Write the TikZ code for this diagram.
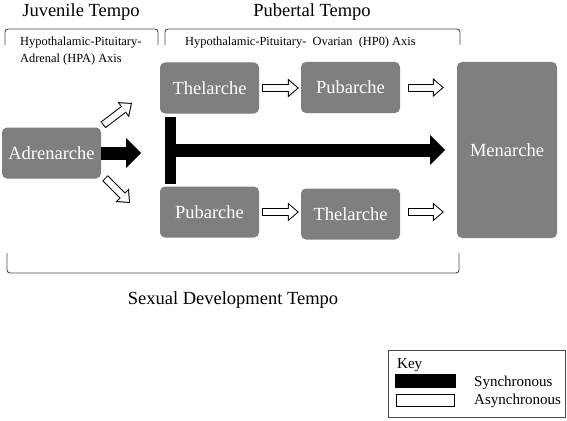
\documentclass[tikz,border=0pt]{standalone}
\usepackage{fontspec}
\setmainfont{LiberationSerif}[Extension=.ttf, UprightFont=*-Regular, BoldFont=*-Bold]
\usetikzlibrary{arrows.meta,positioning}

\definecolor{boxgray}{HTML}{7F7F7F}
\definecolor{linegray}{HTML}{4A4A4A}

\tikzset{
  stage/.style={rectangle, rounded corners=5pt, fill=boxgray, text=white,
    minimum width=99pt, minimum height=51pt, inner sep=0pt,
    font=\fontsize{18.5}{22}\selectfont},
  syncarrow/.style={line width=13pt,
    -{Triangle[length=15pt,width=30pt,line width=0pt]}},
  asyncarrow/.style={draw=white, line width=6pt, shorten <=1pt, shorten >=1.5pt,
    -{Triangle[length=8.5pt,width=14.6pt,line width=0pt]},
    preaction={draw=black, line width=8pt, shorten <=0pt, shorten >=0pt,
      -{Triangle[length=11pt,width=19pt,line width=0pt]}}},
  tempo/.style={font=\fontsize{18.5}{22}\selectfont, anchor=base, inner sep=0pt},
  axislabel/.style={font=\fontsize{12.4}{15}\selectfont, anchor=base west, inner sep=0pt},
  keylabel/.style={font=\fontsize{15}{18}\selectfont, anchor=base west, inner sep=0pt},
  brace/.style={draw=linegray, line width=0.9pt, rounded corners=3pt},
}

\begin{document}
\begin{tikzpicture}[x=1pt, y=-1pt]
  \useasboundingbox (0,0) rectangle (567,420);

  % Tempo headings and brackets
  \node[tempo] (juvenile) at (81,16.5) {Juvenile Tempo};
  \node[tempo] (pubertal) at (312,16.5) {Pubertal Tempo};
  \draw[brace] (5,45) -- (5,29) -- (158,29) -- (158,45);
  \draw[brace] (165,45) -- (165,29) -- (460,29) -- (460,45);
  \node[axislabel] (hpa1) at (20,46) {Hypothalamic-Pituitary-};
  \node[axislabel] (hpa2) at (20,63) {Adrenal (HPA) Axis};
  \node[axislabel] (hpo) at (185,46) {Hypothalamic-Pituitary-~ Ovarian~ (HP0) Axis};

  % Stages
  \node[stage] (adren) at (51.5,153) {Adrenarche};
  \node[stage] (thelA) at (209.5,88) {Thelarche};
  \node[stage] (pubA) at (350.5,87.5) {Pubarche};
  \node[stage] (pubB) at (209.5,212) {Pubarche};
  \node[stage] (thelB) at (350.5,214) {Thelarche};
  \node[stage, minimum width=100pt, minimum height=176pt] (men) at (507,150) {Menarche};

  % Synchronous path
  \coordinate (synctip) at (141,153);
  \coordinate (bartop) at (170.5,117);
  \coordinate (barbot) at (170.5,184);
  \coordinate (barmid) at (170.5,150);
  \coordinate (mentip) at (445,150);
  \draw[syncarrow] (adren.east) -- (synctip);
  \draw[line width=11pt] (bartop) -- (barbot);
  \draw[syncarrow] (barmid) -- (mentip);

  % Asynchronous paths
  \coordinate (upstart) at (103,125);
  \coordinate (uptip) at (132,103);
  \coordinate (downstart) at (105,178);
  \coordinate (downtip) at (130,203);
  \draw[asyncarrow] (upstart) -- (uptip);
  \draw[asyncarrow] (downstart) -- (downtip);
  \draw[asyncarrow] ([xshift=3pt]thelA.east) -- ([xshift=-2pt]thelA.east -| pubA.west);
  \draw[asyncarrow] ([xshift=8pt]pubA.east) -- ([xshift=-13pt]pubA.east -| men.west);
  \draw[asyncarrow] ([xshift=3pt]pubB.east) -- ([xshift=-2pt]pubB.east -| thelB.west);
  \draw[asyncarrow] ([xshift=8pt,yshift=2pt]thelB.east) -- ([xshift=-13pt,yshift=2pt]thelB.east -| men.west);

  % Overall bracket
  \draw[brace] (7,253) -- (7,273) -- (459,273) -- (459,253);
  \node[tempo] (sexual) at (233,304) {Sexual Development Tempo};

  % Key
  \node[draw=linegray, line width=0.8pt, minimum width=177pt, minimum height=67pt, inner sep=0pt] (key) at (476.5,384) {};
  \node[keylabel] (keytitle) at (397,368) {Key};
  \node[fill=black, minimum width=61pt, minimum height=14pt, inner sep=0pt] (keysync) at (425.5,381) {};
  \node[draw=black, line width=1.5pt, minimum width=58pt, minimum height=12pt, inner sep=0pt] (keyasync) at (425.5,400.5) {};
  \node[keylabel] (synctext) at (474,386) {Synchronous};
  \node[keylabel] (asynctext) at (474,404) {Asynchronous};
\end{tikzpicture}
\end{document}
